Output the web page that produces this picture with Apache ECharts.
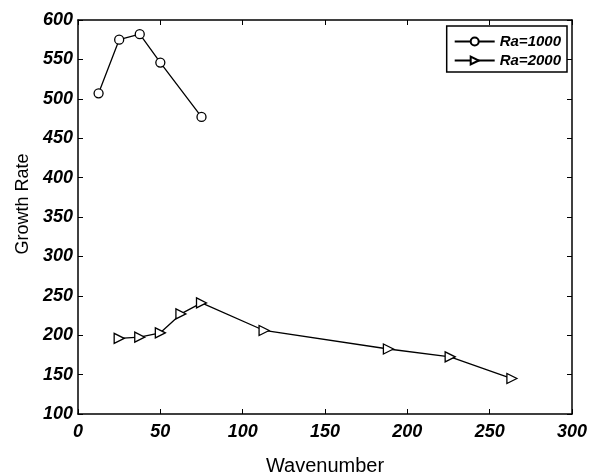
<!DOCTYPE html>
<html>
<head>
<meta charset="utf-8">
<script src="https://cdn.jsdelivr.net/npm/echarts@6/dist/echarts.min.js"></script>
<style>
  html, body { margin: 0; padding: 0; background: #fff; }
  #main { width: 590px; height: 473px; }
</style>
</head>
<body>
<div id="main"></div>
<script>
  // 数据
  var ra1000X = [12.5, 25, 37.5, 50, 75];
  var ra1000Y = [507, 575, 582, 546, 477];
  var ra2000X = [25, 37.5, 50, 62.5, 75, 113, 188.5, 226, 263.5];
  var ra2000Y = [196, 197.5, 203, 227, 241, 206, 182.5, 172.5, 145];
  var seriesNames = ['Ra=1000', 'Ra=2000'];

  function pairs(xs, ys) {
    return xs.map(function (x, i) { return [x, ys[i]]; });
  }

  var tickFont = {
    fontFamily: 'Liberation Sans',
    fontWeight: 'bold',
    fontStyle: 'italic',
    fontSize: 18,
    color: '#000'
  };
  function tickStyle() {
    return { show: true, inside: true, length: 5, lineStyle: { color: '#000', width: 1 } };
  }
  function lineStyle() {
    // onZero 关掉，不然右边的轴会跑到 x=0
    return { show: true, onZero: false, lineStyle: { color: '#000', width: 1.5 } };
  }

  var myChart = echarts.init(document.getElementById('main'));
  var option = {
    animation: false,
    grid: { left: 78, right: 18, top: 20, bottom: 59, containLabel: false, outerBoundsMode: 'none' },
    legend: {
      right: 23,
      top: 26,
      orient: 'vertical',
      borderColor: '#000',
      borderWidth: 1.5,
      padding: [8, 6, 4, 7],
      itemGap: 4,
      itemWidth: 40,
      itemHeight: 10,
      data: seriesNames,
      textStyle: {
        fontFamily: 'Liberation Sans',
        fontWeight: 'bold',
        fontStyle: 'italic',
        fontSize: 15,
        color: '#000'
      }
    },
    xAxis: [{
      type: 'value',
      min: 0, max: 300, interval: 50,
      name: 'Wavenumber',
      nameLocation: 'middle',
      nameGap: 42,
      nameTextStyle: { fontFamily: 'Liberation Sans', fontSize: 20, color: '#000' },
      axisLine: lineStyle(),
      axisTick: tickStyle(),
      axisLabel: Object.assign({ margin: 9 }, tickFont),
      splitLine: { show: false }
    }, {
      type: 'value', position: 'top',
      min: 0, max: 300, interval: 50,
      axisLine: lineStyle(),
      axisTick: tickStyle(),
      axisLabel: { show: false },
      splitLine: { show: false }
    }],
    yAxis: [{
      type: 'value',
      min: 100, max: 600, interval: 50,
      name: 'Growth Rate',
      nameLocation: 'middle',
      nameGap: 46,
      nameTextStyle: { fontFamily: 'Liberation Sans', fontSize: 18, color: '#000', padding: [0, 0, 0, 26] },
      axisLine: lineStyle(),
      axisTick: tickStyle(),
      axisLabel: Object.assign({ margin: 5 }, tickFont),
      splitLine: { show: false }
    }, {
      type: 'value', position: 'right',
      min: 100, max: 600, interval: 50,
      axisLine: lineStyle(),
      axisTick: tickStyle(),
      axisLabel: { show: false },
      splitLine: { show: false }
    }],
    series: [{
      name: seriesNames[0],
      type: 'line',
      symbol: 'circle',
      symbolSize: 9,
      lineStyle: { color: '#000', width: 1.3 },
      itemStyle: { color: '#fff', borderColor: '#000', borderWidth: 1.3 },
      data: pairs(ra1000X, ra1000Y)
    }, {
      name: seriesNames[1],
      type: 'line',
      symbol: 'triangle',
      symbolRotate: -90,
      symbolSize: 10,
      lineStyle: { color: '#000', width: 1.3 },
      itemStyle: { color: '#fff', borderColor: '#000', borderWidth: 1.3 },
      data: pairs(ra2000X, ra2000Y)
    }]
  };
  myChart.setOption(option);
</script>
</body>
</html>
